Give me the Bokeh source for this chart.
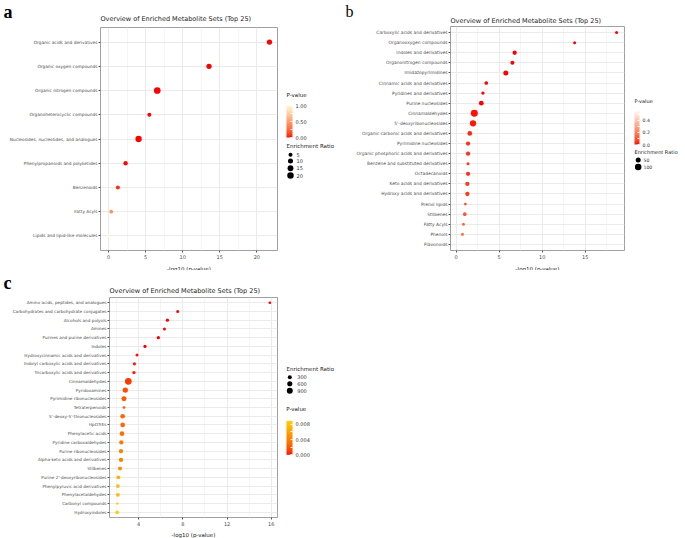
import numpy as np
from bokeh.plotting import figure
from bokeh.models import (FactorRange, Range1d, FixedTicker, LinearColorMapper, ColorBar,
                          Label, ColumnDataSource, PrintfTickFormatter)
from bokeh.layouts import column, row
from bokeh.transform import transform
from bokeh.embed import file_html
from bokeh.resources import INLINE

# ---------------- data ----------------
TITLE = "Overview of Enriched Metabolite Sets (Top 25)"
XLABEL = "-log10 (p-value)"

a_sets = ["Organic acids and derivatives", "Organic oxygen compounds", "Organic nitrogen compounds",
          "Organoheterocyclic compounds", "Nucleosides, nucleotides, and analogues",
          "Phenylpropanoids and polyketides", "Benzenoids", "Fatty Acyls", "Lipids and lipid-like molecules"]
a_logp = [21.7, 13.55, 6.57, 5.5, 4.05, 2.3, 1.26, 0.36, 0.0]
a_ratio = [11.5, 11.5, 21.5, 5.0, 18.5, 6.5, 5.0, 4.0, 0.5]
a_xticks = [0, 5, 10, 15, 20]
a_xminor = [2.5, 7.5, 12.5, 17.5]
a_pticks = [0.0, 0.25, 0.5, 0.75, 1.0]
a_size_legend = [5, 10, 15, 20]

b_sets = ["Carboxylic acids and derivatives", "Organooxygen compounds", "Indoles and derivatives",
          "Organonitrogen compounds", "Imidazopyrimidines", "Cinnamic acids and derivatives",
          "Pyridines and derivatives", "Purine nucleosides", "Cinnamaldehydes", "5'-deoxyribonucleosides",
          "Organic carbonic acids and derivatives", "Pyrimidine nucleosides",
          "Organic phosphoric acids and derivatives", "Benzene and substituted derivatives", "Octadecanoids",
          "Keto acids and derivatives", "Hydroxy acids and derivatives", "Prenol lipids", "Stilbenes",
          "Fatty Acyls", "Phenols", "Flavonoids"]
b_logp = [18.65, 13.77, 6.8, 6.54, 5.77, 3.5, 3.11, 2.92, 2.11, 1.96, 1.58, 1.38, 1.38, 1.38, 1.38,
          1.3, 1.3, 1.07, 1.0, 0.85, 0.73, 0.26]
b_ratio = [10, 10, 32, 26, 50, 20, 14, 42, 120, 92, 42, 32, 32, 10, 32, 32, 32, 6.5, 20, 10, 14, 1]
b_xticks = [0, 5, 10, 15]
b_xminor = [2.5, 7.5, 12.5, 17.5]
b_pticks = [0.0, 0.1, 0.2, 0.3, 0.4, 0.5]
b_size_legend = [50, 100]

c_sets = ["Amino acids, peptides, and analogues", "Carbohydrates and carbohydrate conjugates",
          "Alcohols and polyols", "Amines", "Purines and purine derivatives", "Indoles",
          "Hydroxycinnamic acids and derivatives", "Indolyl carboxylic acids and derivatives",
          "Tricarboxylic acids and derivatives", "Cinnamaldehydes", "Pyridoxamines",
          "Pyrimidine ribonucleosides", "Tetraterpenoids", "5'-deoxy-5'-thionucleosides", "HpOTrEs",
          "Phenylacetic acids", "Pyridine carboxaldehydes", "Purine ribonucleosides",
          "Alpha-keto acids and derivatives", "Stilbenes", "Purine 2'-deoxyribonucleosides",
          "Phenylpyruvic acid derivatives", "Phenylacetaldehydes", "Carbonyl compounds", "Hydroxyindoles"]
c_logp = [15.87, 7.53, 6.6, 6.33, 5.78, 4.57, 3.85, 3.61, 3.57, 3.06, 2.79, 2.67, 2.67, 2.55, 2.55,
          2.49, 2.43, 2.4, 2.4, 2.31, 2.16, 2.12, 2.12, 2.07, 2.05]
c_ratio = [82, 120, 165, 120, 165, 165, 120, 165, 165, 1190, 655, 560, 82, 475, 475, 475, 370, 370, 370,
           300, 240, 240, 240, 42, 240]
c_xticks = [4, 8, 12, 16]
c_xminor = [2, 6, 10, 14]
c_pticks = [0.0, 0.002, 0.004, 0.006, 0.008]
c_size_legend = [300, 600, 900]


# ---------------- colour helpers (Lab interpolation like ggplot) ----------------
def _hex2rgb(h):
    h = h.lstrip("#")
    return np.array([int(h[i:i + 2], 16) for i in (0, 2, 4)], dtype=float) / 255.0

_M = np.array([[0.4124564, 0.3575761, 0.1804375],
               [0.2126729, 0.7151522, 0.0721750],
               [0.0193339, 0.1191920, 0.9503041]])
_W = np.array([0.95047, 1.0, 1.08883])

def _rgb2lab(c):
    lin = np.where(c <= 0.04045, c / 12.92, ((c + 0.055) / 1.055) ** 2.4)
    xyz = _M @ lin / _W
    d = 6 / 29
    f = np.where(xyz > d ** 3, np.cbrt(xyz), xyz / (3 * d * d) + 4 / 29)
    return np.array([116 * f[1] - 16, 500 * (f[0] - f[1]), 200 * (f[1] - f[2])])

def _lab2hex(lab):
    L, a, b = lab
    fy = (L + 16) / 116
    fx = fy + a / 500
    fz = fy - b / 200
    d = 6 / 29
    f = np.array([fx, fy, fz])
    xyz = np.where(f > d, f ** 3, 3 * d * d * (f - 4 / 29)) * _W
    lin = np.linalg.solve(_M, xyz)
    lin = np.clip(lin, 0, 1)
    c = np.where(lin <= 0.0031308, 12.92 * lin, 1.055 * lin ** (1 / 2.4) - 0.055)
    c = np.clip(np.round(c * 255), 0, 255).astype(int)
    return "#%02x%02x%02x" % tuple(c)

def lab_palette(low, high, n=256):
    l0, l1 = _rgb2lab(_hex2rgb(low)), _rgb2lab(_hex2rgb(high))
    return [_lab2hex(l0 + (l1 - l0) * t) for t in np.linspace(0, 1, n)]


FONT = "DejaVu Sans"
CB_SHIFT = 13  # colour-bar box offset observed in Bokeh's tuple placement


def strip(w, h):
    """A blank figure whose frame is the whole canvas, with 1 data unit = 1 pixel (y downward)."""
    s = figure(width=w, height=h, x_range=Range1d(0, w), y_range=Range1d(h, 0), output_backend="svg",
               toolbar_location=None, x_axis_type=None, y_axis_type=None,
               min_border=0, min_border_left=0, min_border_right=0, min_border_top=0, min_border_bottom=0)
    s.outline_line_color = None
    s.background_fill_color = "white"
    s.border_fill_color = "white"
    return s


def add_text(s, x, y, txt, size, color="#222222", font=FONT, style="normal", baseline="middle",
             align="left"):
    s.add_layout(Label(x=x, y=y, text=txt, text_font=font, text_font_size=size, text_color=color,
                       text_font_style=style, text_baseline=baseline, text_align=align))


def make_panel(sets, logp, ratio, xticks, xminor, pticks, pfmt, size_vals, size_c, size_k, low, high,
               W, L, FW, hdr_h, FH, B, ftr_h, ylab_font, letter, title_y, axis_y, lg, cb_w, cb_h):
    logp = np.array(logp, dtype=float)
    ratio = np.array(ratio, dtype=float)
    pval = 10 ** (-logp)
    sizes = size_c + size_k * np.sqrt(ratio)
    src = ColumnDataSource(dict(set=sets, logp=logp, p=pval, ratio=ratio, size=sizes))

    span = logp.max() - logp.min()
    xr = Range1d(logp.min() - 0.05 * span, logp.max() + 0.05 * span)
    yr = FactorRange(factors=list(reversed(sets)), range_padding=0.1, range_padding_units="absolute")

    MW = L + FW + 1
    MH = 1 + FH + B
    p = figure(width=MW, height=MH, x_range=xr, y_range=yr, output_backend="svg", toolbar_location=None,
               min_border_left=L, min_border_right=1, min_border_top=1, min_border_bottom=B)
    p.background_fill_color = "white"
    p.border_fill_color = "white"
    p.outline_line_color = "#a0a0a0"
    p.outline_line_width = 1

    mapper = LinearColorMapper(palette=lab_palette(low, high), low=0, high=float(pval.max()))
    p.scatter(x="logp", y="set", size="size", source=src,
              fill_color=transform("p", mapper), line_color=None)

    p.xgrid.grid_line_color = "#ebebeb"
    p.xgrid.minor_grid_line_color = "#f5f5f5"
    p.ygrid.grid_line_color = "#ebebeb"

    p.xaxis.ticker = FixedTicker(ticks=xticks, minor_ticks=xminor)
    for ax in (p.xaxis[0], p.yaxis[0]):
        ax.axis_line_color = None
        ax.major_tick_line_color = "#555555"
        ax.major_tick_in = 0
        ax.major_tick_out = 2
        ax.minor_tick_line_color = None
        ax.major_label_text_color = "#4d4d4d"
        ax.major_label_text_font = FONT
        ax.major_label_standoff = 1
    p.xaxis.major_label_standoff = 0
    p.xaxis.major_label_text_font_size = "5px"
    p.yaxis.major_label_text_font_size = ylab_font

    # header: panel letter + title
    hdr = strip(W, hdr_h)
    add_text(hdr, letter[1], letter[2], letter[0], letter[3], color="black", font="Liberation Serif",
             style=letter[4], baseline="alphabetic")
    add_text(hdr, L, title_y, TITLE, "6.5px", color="#1a1a1a")

    # footer: x axis title
    ftr = strip(W, ftr_h)
    add_text(ftr, L + FW / 2, axis_y, XLABEL, "5.5px", color="#1a1a1a", align="center")

    # legend strip
    LW = W - MW
    leg = strip(LW, MH)
    add_text(leg, lg["p_title"][0], lg["p_title"][1], "P-value", lg["title_font"])
    cbx, cby = lg["cb"]
    cb = ColorBar(color_mapper=mapper, location=(cbx, MH - (cby + cb_h) - CB_SHIFT), width=cb_w, height=cb_h,
                  padding=0, margin=0, ticker=FixedTicker(ticks=pticks),
                  formatter=PrintfTickFormatter(format=pfmt),
                  major_label_text_font_size=lg["label_font"], major_label_text_color="#333333",
                  major_label_text_font=FONT, label_standoff=3,
                  major_tick_line_color="white", major_tick_in=2, major_tick_out=0,
                  minor_tick_line_color=None, bar_line_color=None, border_line_color=None,
                  background_fill_color=None)
    leg.add_layout(cb, "center")

    add_text(leg, lg["s_title"][0], lg["s_title"][1], "Enrichment Ratio", lg["title_font"])
    size_vals = np.array(size_vals, dtype=float)
    leg.scatter(x=[lg["dot_x"]] * len(size_vals), y=lg["dot_y"], size=size_c + size_k * np.sqrt(size_vals),
                fill_color="black", line_color=None)
    for v, cy in zip(size_vals, lg["dot_y"]):
        add_text(leg, lg["lab_x"], cy, "%d" % v, lg["label_font"], color="#333333")

    return column(hdr, row(p, leg, spacing=0), ftr, spacing=0)


col_a = make_panel(a_sets, a_logp, a_ratio, a_xticks, a_xminor, a_pticks, "%.2f", a_size_legend,
                   1.5, 1.12, "#ff0000", "#fffbd6",
                   W=340, L=100, FW=177, hdr_h=26, FH=226, B=8, ftr_h=9, ylab_font="4.3px",
                   letter=("a", 3, 11, "18px", "bold"), title_y=18, axis_y=4,
                   lg=dict(p_title=(8, 71), cb=(8, 77), s_title=(8, 125), dot_x=12,
                           dot_y=[134, 140.7, 148.3, 156], lab_x=18, title_font="5.5px", label_font="5px"),
                   cb_w=6, cb_h=32)

col_b = make_panel(b_sets, b_logp, b_ratio, b_xticks, b_xminor, b_pticks, "%.1f", b_size_legend,
                   1.4, 0.51, "#ff0000", "#fff6ee",
                   W=345, L=110, FW=174, hdr_h=25, FH=227, B=8, ftr_h=9, ylab_font="4.4px",
                   letter=("b", 5, 11, "16px", "normal"), title_y=20, axis_y=4,
                   lg=dict(p_title=(9, 78.7), cb=(9, 84), s_title=(9, 132.7), dot_x=12.7,
                           dot_y=[140.7, 148], lab_x=18, title_font="5px", label_font="4.6px"),
                   cb_w=5, cb_h=33)

col_c = make_panel(c_sets, c_logp, c_ratio, c_xticks, c_xminor, c_pticks, "%.3f", c_size_legend,
                   1.28, 0.157, "#ff0000", "#ffcf00",
                   W=340, L=109, FW=168, hdr_h=26, FH=223, B=8, ftr_h=10, ylab_font="4.2px",
                   letter=("c", 3, 12, "18px", "bold"), title_y=20, axis_y=4.5,
                   lg=dict(p_title=(7.7, 117.3), cb=(8, 122.3), s_title=(8, 75), dot_x=11.3,
                           dot_y=[84, 91, 98.3], lab_x=18.7, title_font="5.5px", label_font="5px"),
                   cb_w=6, cb_h=34)

layout = column(row(col_a, col_b, spacing=0), col_c, spacing=0)
open("out.html", "w").write(file_html(layout, INLINE))
